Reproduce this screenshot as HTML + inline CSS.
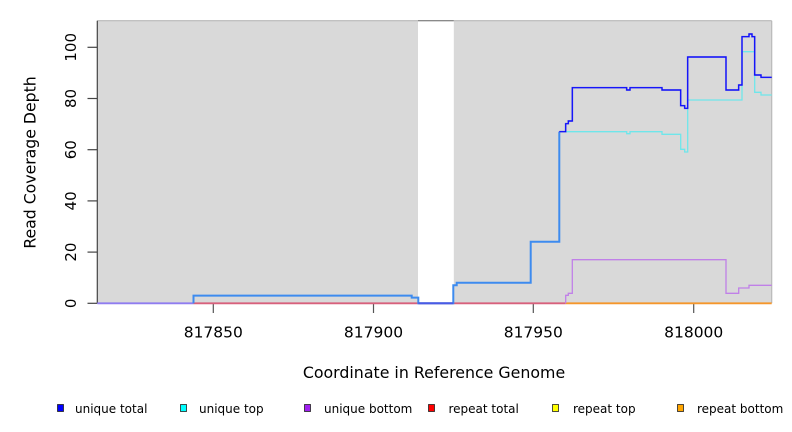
<!DOCTYPE html>
<html><head><meta charset="utf-8"><style>
html,body{margin:0;padding:0;background:#fff;}
svg{display:block;}
text{font-family:"DejaVu Sans","Liberation Sans",sans-serif;fill:#000;}
</style></head><body>
<svg width="792" height="432" viewBox="0 0 792 432" xmlns="http://www.w3.org/2000/svg">
<rect x="0" y="0" width="792" height="432" fill="#fff"/>
<!-- plot background -->
<rect x="97.3" y="20.7" width="320.7" height="282.6" fill="#d9d9d9"/>
<rect x="453.7" y="20.7" width="318" height="282.6" fill="#d9d9d9"/>
<rect x="418" y="20.7" width="35.7" height="282.6" fill="#ffffff"/>
<!-- borders -->
<line x1="97.3" y1="20.7" x2="771.7" y2="20.7" stroke="#b8b8b8" stroke-width="1.2"/>
<line x1="418" y1="20.7" x2="453.7" y2="20.7" stroke="#808080" stroke-width="1.2"/>
<line x1="771.7" y1="20.7" x2="771.7" y2="303.3" stroke="#b8b8b8" stroke-width="1.2"/>
<line x1="97.3" y1="20.7" x2="97.3" y2="303.3" stroke="#444" stroke-width="1.2"/>

<!-- y ticks -->
<g stroke="#444" stroke-width="1.2">
<line x1="87.5" y1="303.3" x2="97.3" y2="303.3"/>
<line x1="87.5" y1="252.1" x2="97.3" y2="252.1"/>
<line x1="87.5" y1="200.9" x2="97.3" y2="200.9"/>
<line x1="87.5" y1="149.7" x2="97.3" y2="149.7"/>
<line x1="87.5" y1="98.5" x2="97.3" y2="98.5"/>
<line x1="87.5" y1="47.3" x2="97.3" y2="47.3"/>
</g>
<g font-size="15">
<text transform="translate(76,303.3) rotate(-90)" text-anchor="middle">0</text>
<text transform="translate(76,252.1) rotate(-90)" text-anchor="middle">20</text>
<text transform="translate(76,200.9) rotate(-90)" text-anchor="middle">40</text>
<text transform="translate(76,149.7) rotate(-90)" text-anchor="middle">60</text>
<text transform="translate(76,98.5) rotate(-90)" text-anchor="middle">80</text>
<text transform="translate(76,47.3) rotate(-90)" text-anchor="middle">100</text>
</g>
<text transform="translate(35.5,162.5) rotate(-90)" text-anchor="middle" font-size="15.7">Read Coverage Depth</text>

<!-- x ticks -->
<g stroke="#555" stroke-width="1.2">
<line x1="213.3" y1="303.3" x2="213.3" y2="313"/>
<line x1="373.5" y1="303.3" x2="373.5" y2="313"/>
<line x1="533.3" y1="303.3" x2="533.3" y2="313"/>
<line x1="693.7" y1="303.3" x2="693.7" y2="313"/>
</g>
<g font-size="15.5" text-anchor="middle">
<text x="213.3" y="337.3">817850</text>
<text x="373.5" y="337.3">817900</text>
<text x="533.3" y="337.3">817950</text>
<text x="693.7" y="337.3">818000</text>
</g>
<text x="434" y="378" text-anchor="middle" font-size="15.8">Coordinate in Reference Genome</text>

<!-- baseline series -->
<g fill="none" stroke-width="1.8">
<line x1="97.3" y1="303.3" x2="193.5" y2="303.3" stroke="#8f7cf0"/>
<line x1="193.5" y1="303.3" x2="565.7" y2="303.3" stroke="#d8607c"/>
<line x1="565.7" y1="303.3" x2="771.7" y2="303.3" stroke="#f5962a"/>
</g>

<!-- purple unique bottom -->
<path d="M565.7,303.3 V295.3 H568.3 V293.3 H572.3 V259.7 H726 V293.3 H738.7 V288 H749 V285.3 H771.7" fill="none" stroke="#c080e8" stroke-width="1.3"/>

<!-- shared blue/cyan -->
<path d="M193.5,303.3 V295.6 H411.7 V297.6 H418.3 V303.3 H453.3 V285.3 H456.7 V282.8 H530.7 V241.7 H559.3 V131.7" fill="none" stroke="#3d8bef" stroke-width="2"/>
<line x1="418.3" y1="303.3" x2="453.3" y2="303.3" stroke="#4a5ae6" stroke-width="1.8"/>

<!-- cyan unique top -->
<path d="M559.3,131.7 H626.7 V133.7 H630 V131.7 H662 V134.3 H680.7 V149.3 H684.7 V152 H687.7 V100 H742 V51.7 H754.7 V92.3 H761 V95 H771.7" fill="none" stroke="#6fe6ea" stroke-width="1.3"/>

<!-- blue unique total -->
<path d="M559.3,131.7 H565.7 V123.7 H568.3 V121 H572.3 V87.7 H626.7 V90 H630 V87.7 H662 V90 H680.7 V105.7 H684.7 V108.3 H687.7 V57 H726 V90 H738.7 V85 H742 V36.7 H749 V34 H752 V36.7 H754.7 V75 H761 V77.3 H771.7" fill="none" stroke="#5a5aea" stroke-width="1.7"/>
<path d="M559.3,131.7 H565.7 V123.7 H568.3 V121 H572.3 V87.7 H626.7 V90 H630 V87.7 H662 V90 H680.7 V105.7 H684.7 V108.3 H687.7 V57 H726 V90 H738.7 V85 H742 V36.7 H749 V34 H752 V36.7 H754.7 V75 H761 V77.3 H771.7" fill="none" stroke="#0000ff" stroke-width="0.9"/>

<!-- legend -->
<g stroke="#222" stroke-width="0.8">
<rect x="57.5" y="404.5" width="6" height="7" fill="#0000ff"/>
<rect x="180.5" y="404.5" width="6" height="7" fill="#00ffff"/>
<rect x="304.5" y="404.5" width="6" height="7" fill="#a020f0"/>
<rect x="428.5" y="404.5" width="6" height="7" fill="#ff0000"/>
<rect x="552.5" y="404.5" width="6" height="7" fill="#ffff00"/>
<rect x="677.5" y="404.5" width="6" height="7" fill="#ffa500"/>
</g>
<g font-size="12">
<text x="75" y="413">unique total</text>
<text x="199" y="413">unique top</text>
<text x="324" y="413">unique bottom</text>
<text x="448.5" y="413">repeat total</text>
<text x="573" y="413">repeat top</text>
<text x="697" y="413">repeat bottom</text>
</g>
</svg>
</body></html>
